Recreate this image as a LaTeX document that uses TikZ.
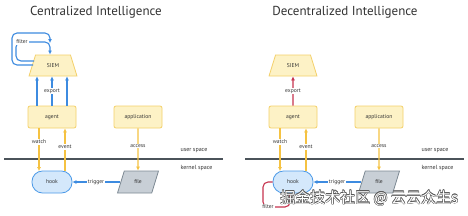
\documentclass[tikz,border=0pt]{standalone}
\usepackage{fontspec}
\setmainfont{PT Sans}
\newfontfamily\cjkfont{Noto Sans CJK SC}
\usetikzlibrary{shapes.geometric,arrows.meta}
\definecolor{boxfill}{HTML}{FDF2C6}
\definecolor{boxline}{HTML}{F4D06A}
\definecolor{yarr}{HTML}{F5C242}
\definecolor{barr}{HTML}{3D8BE0}
\definecolor{rarr}{HTML}{C7344F}
\definecolor{hookfill}{HTML}{D4E8FB}
\definecolor{hookline}{HTML}{4E9BE8}
\definecolor{filefill}{HTML}{C8CFD6}
\definecolor{fileline}{HTML}{7E8A94}
\definecolor{sepline}{HTML}{4B535A}
\definecolor{txt}{HTML}{333333}
\tikzset{
  every node/.style={text=txt},
  titletext/.style={font=\fontsize{13}{15}\selectfont},
  boxlbl/.style={font=\fontsize{5.6}{6}\selectfont},
  ybox/.style={draw=boxline,fill=boxfill,line width=0.8pt,rounded corners=2pt,minimum width=48pt,minimum height=22pt,boxlbl},
  siemshape/.style={draw=boxline,fill=boxfill,line width=0.8pt,trapezium,trapezium stretches=true,trapezium left angle=72,trapezium right angle=72,minimum width=48pt,minimum height=21pt,boxlbl},
  hookshape/.style={draw=hookline,fill=hookfill,line width=0.8pt,rounded corners=10.5pt,minimum width=40pt,minimum height=22pt,boxlbl},
  fileshape/.style={draw=fileline,fill=filefill,line width=0.8pt,trapezium,trapezium stretches=true,trapezium left angle=72,trapezium right angle=108,minimum width=41pt,minimum height=22pt,boxlbl},
  arrlbl/.style={fill=white,inner sep=1pt,font=\fontsize{5.6}{6}\selectfont},
  spacelbl/.style={anchor=west,font=\fontsize{6}{7}\selectfont},
  arrtip/.style={-{Latex[length=4pt,width=4pt]}},
  yline/.style={draw=yarr,line width=1.1pt,arrtip},
  bline/.style={draw=barr,line width=1.1pt,arrtip},
  rline/.style={draw=rarr,line width=1.1pt,arrtip},
  sep/.style={draw=sepline,line width=1.2pt},
  wmtext/.style={anchor=west,inner sep=0pt,font=\cjkfont\fontsize{15}{17}\selectfont},
}
\begin{document}
\begin{tikzpicture}[x=1pt,y=-1pt]
\useasboundingbox[fill=white] (0,0) rectangle (468,215);
% ---------------- left: centralized ----------------
\node[titletext] (titleL) at (96,12) {Centralized Intelligence};
\node[siemshape] (siemL) at (53,65.5) {SIEM};
\node[ybox] (agentL) at (52,117) {agent};
\node[ybox] (appL) at (138,117) {application};
\node[hookshape] (hookL) at (52,182) {hook};
\node[fileshape] (fileL) at (138,182) {file};
\draw[sep] (4,159) coordinate (sepLa) -- (223,159) coordinate (sepLb);
\node[spacelbl] (userL) at (177,151) {user space};
\node[spacelbl] (kernL) at (177,168) {kernel space};
% export
\foreach \dx in {-15,0,15}{
  \draw[bline] ([xshift=\dx pt]agentL.north) -- ([xshift=\dx pt]agentL.north |- siemL.south);
}
\node[arrlbl] (expL) at (52,91) {export};
% filter loop
\coordinate (fa1) at (12,65);
\coordinate (fa2) at (12,33);
\coordinate (fa3) at (50,33);
\coordinate (fa4) at (50,43);
\draw[bline,rounded corners=5pt] (33,65) -- (fa1) -- (fa2) -- (fa3) -- (fa4);
\coordinate (fb1) at (16,61);
\coordinate (fb2) at (16,42);
\coordinate (fb3) at (50,42);
\draw[bline,rounded corners=5pt] (34.2,61) -- (fb1) -- (fb2) -- (fb3) -- (50,54.5);
\node[arrlbl] (filtL) at (22,42) {filter};
% watch / event / access
\draw[yline] ([xshift=-13pt]agentL.south) -- ([xshift=-13pt,yshift=-0.5pt]agentL.south |- hookL.north);
\node[arrlbl] (watchL) at (39,142) {watch};
\draw[yline] ([xshift=13pt,yshift=-0.5pt]agentL.south |- hookL.north) -- ([xshift=13pt]agentL.south);
\node[arrlbl] (eventL) at (65,147) {event};
\draw[yline] (appL.south) -- (fileL.north);
\node[arrlbl] (accL) at (138,146) {access};
\draw[bline] (fileL.west) -- (hookL.east);
\node[arrlbl] (trigL) at (96,182) {trigger};
% ---------------- right: decentralized ----------------
\node[titletext] (titleR) at (345,12) {Decentralized Intelligence};
\node[siemshape] (siemR) at (293,65.5) {SIEM};
\node[ybox] (agentR) at (293,117) {agent};
\node[ybox] (appR) at (379,117) {application};
\node[hookshape] (hookR) at (293,182) {hook};
\node[fileshape] (fileR) at (379,182) {file};
\draw[sep] (245,159) coordinate (sepRa) -- (464,159) coordinate (sepRb);
\node[spacelbl] (userR) at (418,151) {user space};
\node[spacelbl] (kernR) at (418,168) {kernel space};
\draw[rline] (agentR.north) -- (siemR.south);
\node[arrlbl] (expR) at (293,91) {export};
\draw[yline] ([xshift=-13pt]agentR.south) -- ([xshift=-13pt,yshift=-0.5pt]agentR.south |- hookR.north);
\node[arrlbl] (watchR) at (280,142) {watch};
\draw[yline] ([xshift=13pt,yshift=-0.5pt]agentR.south |- hookR.north) -- ([xshift=13pt]agentR.south);
\node[arrlbl] (eventR) at (306,147) {event};
\draw[yline] (appR.south) -- (fileR.north);
\node[arrlbl] (accR) at (379,146) {access};
\draw[bline] (fileR.west) -- (hookR.east);
\node[arrlbl] (trigR) at (337,182) {trigger};
% red filter
\coordinate (fr1) at (263,182);
\coordinate (fr2) at (263,207);
\coordinate (fr3) at (290,207);
\draw[rline,rounded corners=5pt] (hookR.west) -- (fr1) -- (fr2) -- (fr3) -- (hookR.south -| fr3);
\node[arrlbl] (filtR) at (268,207) {filter};
% watermark
\foreach \ox/\oy in {-0.45/0,0.45/0,0/-0.45,0/0.45,-0.32/-0.32,0.32/0.32,-0.32/0.32,0.32/-0.32}{
  \node[wmtext,text=black!65] at (280+\ox,198+\oy) {掘金技术社区 @ 云云众生s};
}
\node[wmtext,text=white] (wm) at (280,198) {掘金技术社区 @ 云云众生s};
\end{tikzpicture}
\end{document}
